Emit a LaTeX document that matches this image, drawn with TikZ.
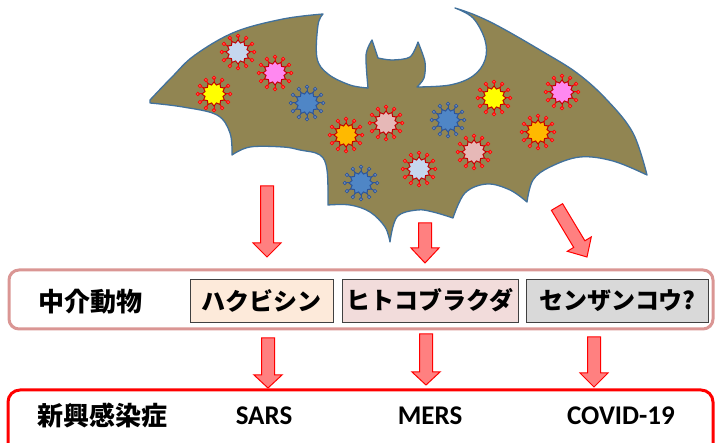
\documentclass[tikz,border=0pt]{standalone}
\usepackage{fontspec}
\setmainfont{Carlito}
\newfontfamily\jpfont{Noto Sans CJK JP}
\usetikzlibrary{shapes.geometric}

\definecolor{batfill}{RGB}{145,133,82}
\definecolor{batline}{RGB}{65,113,156}
\definecolor{arrowfill}{RGB}{255,128,128}
\definecolor{midline}{RGB}{218,150,148}
\definecolor{spikered}{RGB}{255,0,0}
\definecolor{bodyred}{RGB}{192,0,0}
\definecolor{spikeblue}{RGB}{47,85,151}
\definecolor{vblue}{RGB}{79,134,198}
\definecolor{vsky}{RGB}{197,215,238}
\definecolor{vpink}{RGB}{255,136,240}
\definecolor{vyellow}{RGB}{255,255,0}
\definecolor{vorange}{RGB}{255,185,0}
\definecolor{vrose}{RGB}{230,184,183}
\definecolor{hakubishin}{RGB}{253,234,218}
\definecolor{rakuda}{RGB}{242,220,219}
\definecolor{senzan}{RGB}{217,217,217}

% a red block arrow pointing down: x, top, tip, start of head
\newcommand{\blockarr}[4]{%
  \draw[barrow] (#1-6.5,#2) -- (#1+6.5,#2) -- (#1+6.5,#4) -- (#1+14,#4)
    -- (#1,#3) -- (#1-14,#4) -- (#1-6.5,#4) -- cycle;}

\begin{document}
\begin{tikzpicture}[x=1pt,y=-1pt,
  barrow/.style={draw=red, fill=arrowfill, line width=1pt, line join=miter},
  jp/.style={font=\jpfont\bfseries\fontsize{26}{30}\selectfont},
  disease/.style={font=\bfseries\fontsize{27}{30}\selectfont},
  animalbox/.style={draw=black!75, line width=0.8pt, inner sep=0pt,
    minimum height=43, font=\jpfont\bfseries\fontsize{24}{28}\selectfont}]
\useasboundingbox (0,0) rectangle (715,443);
\clip (0,0) rectangle (715,443);

% the bat
\draw[batline, fill=batfill, line width=1.3pt, line join=round]
  plot[smooth, tension=.6] coordinates {(150,100) (172,77) (195,55) (235,32) (283,19) (323,14)}
  -- plot[smooth, tension=.6] coordinates {(323,14) (318,25) (317,58) (328,74) (350,85) (368,88)}
  -- plot[smooth, tension=.5] coordinates {(368,88) (366,55) (372,40)}
  -- plot[smooth, tension=.5] coordinates {(372,40) (378,58)}
  -- plot[smooth, tension=.5] coordinates {(378,58) (392,60) (410,57) (418,42)}
  -- plot[smooth, tension=.5] coordinates {(418,42) (425,62) (424,78) (417,87)}
  -- plot[smooth, tension=.6] coordinates {(417,87) (450,85) (473,76) (485,60) (485,40) (473,18) (455,8)}
  -- plot[smooth, tension=.6] coordinates {(455,8) (475,15) (500,27) (540,50) (577,73) (607,100) (633,133) (647,175)}
  -- plot[smooth, tension=.6] coordinates {(647,175) (613,161) (580,157) (550,167) (533,180) (527,202)}
  -- plot[smooth, tension=.6] coordinates {(527,202) (510,190) (487,184) (465,193) (453,218)}
  -- plot[smooth, tension=.6] coordinates {(453,218) (433,212) (417,210) (397,217) (390,242)}
  -- plot[smooth, tension=.6] coordinates {(390,242) (385,227) (370,212) (350,205) (328,205)}
  -- plot[smooth, tension=.6] coordinates {(328,205) (327,170) (320,155) (300,150) (283,147) (250,147) (232,155)}
  -- plot[smooth, tension=.6] coordinates {(232,155) (230,133) (217,115) (183,107) (150,103)}
  -- cycle;

% viruses: name / centre / body / spikes / outline
\foreach \n/\p/\f/\s/\o in {
    v1/{238,52}/vsky/spikered/bodyred, v2/{275,73}/vpink/spikered/bodyred,
    v3/{214,94}/vyellow/spikered/bodyred, v4/{307,103}/vblue/spikeblue/spikeblue,
    v5/{346,135}/vorange/spikered/bodyred, v6/{386,123}/vrose/spikered/bodyred,
    v7/{448,120}/vblue/spikeblue/spikeblue, v8/{419,169}/vsky/spikered/bodyred,
    v9/{474,152}/vrose/spikered/bodyred, v10/{361,183}/vblue/spikeblue/spikeblue,
    v11/{494,98}/vyellow/spikered/bodyred, v12/{562,92}/vpink/spikered/bodyred,
    v13/{538,132}/vorange/spikered/bodyred}{
  \coordinate (\n) at (\p);
  \foreach \a in {0,30,...,330}{
    \draw[\s, line width=1pt] (\n) ++(\a:11.5) -- ++(\a:4.5);
    \draw[\s, fill=\s!60, line width=0.8pt] (\n) ++(\a:16.2) circle (1.7);
  }
  \draw[\o, fill=\f, line width=1pt, line join=miter, shift={(\n)}]
    plot[samples at={0,...,23}] ({\x*15}:{ifthenelse(mod(\x,2)==0,12,9.3)}) -- cycle;
}

% arrows from the bat
\blockarr{267}{186}{257}{243}
\blockarr{425}{223}{263}{248}
\draw[barrow] (562.6,203.7) -- (584.9,240.8) -- (591.3,236.9) -- (587,257)
  -- (567.3,251.3) -- (573.7,247.4) -- (551.4,210.3) -- cycle;

% intermediate hosts
\draw[midline, line width=3pt, rounded corners=10pt] (9,270) rectangle (713,329);
\node[jp] (host) at (90,302) {中介動物};
\node[animalbox, fill=hakubishin, minimum width=143] (civet) at (261.5,300.5) {ハクビシン};
\node[animalbox, fill=rakuda, minimum width=176] (camel) at (430,300.5) {ヒトコブラクダ};
\node[animalbox, fill=senzan, minimum width=182] (pangolin) at (617,300.5) {センザンコウ?};

% arrows to the diseases
\blockarr{268}{338}{388}{375}
\blockarr{426}{334}{385}{372}
\blockarr{594}{337}{387}{373}

% emerging diseases
\draw[red, line width=3pt, rounded corners=12pt] (8,390) rectangle (713,470);
\node[jp] (disease) at (102,415) {新興感染症};
\node[disease] (sars) at (264,416) {SARS};
\node[disease] (mers) at (430,416) {MERS};
\node[disease] (covid) at (621,416) {COVID-19};
\end{tikzpicture}
\end{document}
